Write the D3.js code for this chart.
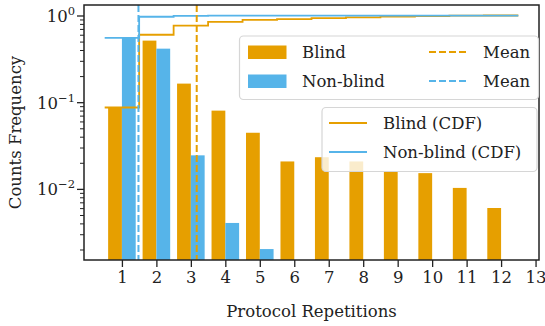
<!DOCTYPE html>
<html>
<head>
<meta charset="utf-8">
<script src="https://cdn.jsdelivr.net/npm/d3@7"></script>
<style>
  body { margin: 0; background: #fff; }
  svg { display: block; font-family: "DejaVu Serif", serif; }
</style>
</head>
<body>
<div id="chart"></div>
<script>
// values
var repetitions = [1, 2, 3, 4, 5, 6, 7, 8, 9, 10, 11, 12];
var blindFreq = [0.088, 0.52, 0.166, 0.081, 0.045, 0.021, 0.0235, 0.021, 0.0163, 0.0154, 0.0104, 0.0061];
var nonBlindFreq = [0.56, 0.42, 0.0247, 0.0041, 0.00205, 0, 0, 0, 0, 0, 0, 0];
var meanBlind = 3.17;
var meanNonBlind = 1.48;
var xTicks = [1, 2, 3, 4, 5, 6, 7, 8, 9, 10, 11, 12, 13];
var yTicks = [1, 0.1, 0.01];
var yTickExp = ["0", "\u22121", "\u22122"];

var orange = "#E69F00", blue = "#56B4E9";

var margin = {top: 5, right: 6, bottom: 66, left: 84},
    width = 545 - margin.left - margin.right,
    height = 326 - margin.top - margin.bottom;

var svg = d3.select("#chart")
  .append("svg")
    .attr("width", width + margin.left + margin.right)
    .attr("height", height + margin.top + margin.bottom)
  .append("g")
    .attr("transform", "translate(" + margin.left + "," + margin.top + ")");

var x = d3.scaleLinear()
  .domain([-0.1, 13.1])
  .range([0, width]);

var y = d3.scaleLog()
  .domain([0.001533, 1.339])
  .range([height, 0]);

var barW = x(0.4) - x(0);

// bars
svg.append("g")
  .selectAll("rect")
  .data(repetitions.filter(function(d, i) { return blindFreq[i] > 0; }))
  .enter()
  .append("rect")
    .attr("x", function(d) { return x(d - 0.4); })
    .attr("y", function(d) { return y(blindFreq[d - 1]); })
    .attr("width", barW)
    .attr("height", function(d) { return height - y(blindFreq[d - 1]); })
    .style("fill", orange);

svg.append("g")
  .selectAll("rect")
  .data(repetitions.filter(function(d, i) { return nonBlindFreq[i] > 0; }))
  .enter()
  .append("rect")
    .attr("x", function(d) { return x(d); })
    .attr("y", function(d) { return y(nonBlindFreq[d - 1]); })
    .attr("width", barW)
    .attr("height", function(d) { return height - y(nonBlindFreq[d - 1]); })
    .style("fill", blue);

// CDF step lines
function cdfPoints(freq) {
  var c = Array.from(d3.cumsum(freq));
  var pts = repetitions.map(function(r, i) { return [r - 0.5, c[i]]; });
  pts.push([repetitions[repetitions.length - 1] + 0.5, c[c.length - 1]]);
  return pts;
}
var stepLine = d3.line()
  .x(function(d) { return x(d[0]); })
  .y(function(d) { return y(d[1]); })
  .curve(d3.curveStepAfter);

svg.append("path")
  .attr("d", stepLine(cdfPoints(blindFreq)))
  .attr("fill", "none").attr("stroke", orange).attr("stroke-width", 1.8);
svg.append("path")
  .attr("d", stepLine(cdfPoints(nonBlindFreq)))
  .attr("fill", "none").attr("stroke", blue).attr("stroke-width", 1.8);

// mean lines
[[meanBlind, orange], [meanNonBlind, blue]].forEach(function(m) {
  svg.append("line")
    .attr("x1", x(m[0])).attr("x2", x(m[0]))
    .attr("y1", 0).attr("y2", height)
    .attr("stroke", m[1]).attr("stroke-width", 2)
    .attr("stroke-dasharray", "7,3");
});

// X axis
var xAxis = svg.append("g")
  .attr("transform", "translate(0," + height + ")")
  .call(d3.axisBottom(x).tickValues(xTicks).tickFormat(d3.format("d")).tickSize(7).tickPadding(4));
xAxis.select(".domain").remove();
xAxis.selectAll(".tick line").attr("stroke", "#222").attr("stroke-width", 1.3);
xAxis.selectAll(".tick text")
  .style("font-size", "16.5px").style("font-family", "DejaVu Serif").attr("fill", "#222");

// Y axis: minor ticks
var minor = [];
[0.001, 0.01, 0.1].forEach(function(dec) {
  for (var k = 2; k <= 9; k++) {
    var v = k * dec;
    if (v >= y.domain()[0] && v <= y.domain()[1]) minor.push(v);
  }
});
svg.append("g")
  .selectAll("line")
  .data(minor)
  .enter()
  .append("line")
    .attr("x1", -4).attr("x2", 0)
    .attr("y1", function(d) { return y(d); })
    .attr("y2", function(d) { return y(d); })
    .attr("stroke", "#222").attr("stroke-width", 1);

var yt = svg.append("g")
  .selectAll("g")
  .data(yTicks)
  .enter()
  .append("g")
    .attr("transform", function(d) { return "translate(0," + y(d) + ")"; });
yt.append("line")
  .attr("x1", -7).attr("x2", 0)
  .attr("stroke", "#222").attr("stroke-width", 1.3);
var ylab = yt.append("text")
  .attr("x", -9)
  .attr("y", 6)
  .attr("text-anchor", "end")
  .attr("fill", "#222")
  .style("font-size", "16.5px");
ylab.append("tspan").text("10");
ylab.append("tspan")
  .attr("dy", -7)
  .style("font-size", "11.5px")
  .text(function(d, i) { return yTickExp[i]; });

// frame
svg.append("rect")
  .attr("width", width).attr("height", height)
  .attr("fill", "none").attr("stroke", "#222").attr("stroke-width", 1.5);

// axis labels
svg.append("text")
  .attr("text-anchor", "middle")
  .attr("x", width / 2)
  .attr("y", height + 57)
  .style("font-size", "16.5px")
  .attr("fill", "#222")
  .text("Protocol Repetitions");

svg.append("text")
  .attr("text-anchor", "middle")
  .attr("transform", "rotate(-90)")
  .attr("y", -margin.left + 21)
  .attr("x", -height / 2)
  .style("font-size", "16.5px")
  .attr("fill", "#222")
  .text("Counts Frequency");

// legends (positions in svg pixels)
var root = d3.select("#chart svg");

function legendBox(x0, y0, w, h) {
  root.append("rect")
    .attr("x", x0).attr("y", y0).attr("width", w).attr("height", h)
    .attr("rx", 4)
    .attr("fill", "white").attr("fill-opacity", 0.8)
    .attr("stroke", "#d6d6d6").attr("stroke-width", 1.2);
}
function legendText(x0, y0, t) {
  root.append("text")
    .attr("x", x0).attr("y", y0)
    .style("font-size", "16.5px")
    .attr("fill", "#222")
    .text(t);
}

legendBox(239.5, 36, 299, 63.5);
root.append("rect").attr("x", 248).attr("y", 45.5).attr("width", 38.5).attr("height", 13.5).attr("fill", orange);
root.append("rect").attr("x", 248).attr("y", 74.5).attr("width", 38.5).attr("height", 13.5).attr("fill", blue);
legendText(302, 58, "Blind");
legendText(302, 87, "Non-blind");
root.append("line").attr("x1", 429).attr("x2", 467).attr("y1", 52).attr("y2", 52)
  .attr("stroke", orange).attr("stroke-width", 2).attr("stroke-dasharray", "7,3");
root.append("line").attr("x1", 429).attr("x2", 467).attr("y1", 81).attr("y2", 81)
  .attr("stroke", blue).attr("stroke-width", 2).attr("stroke-dasharray", "7,3");
legendText(483, 58, "Mean");
legendText(483, 87, "Mean");

legendBox(322, 107.5, 215, 64);
root.append("line").attr("x1", 329).attr("x2", 367).attr("y1", 123).attr("y2", 123)
  .attr("stroke", orange).attr("stroke-width", 1.8);
root.append("line").attr("x1", 329).attr("x2", 367).attr("y1", 152).attr("y2", 152)
  .attr("stroke", blue).attr("stroke-width", 1.8);
legendText(383, 129, "Blind (CDF)");
legendText(383, 158, "Non-blind (CDF)");
</script>
</body>
</html>
